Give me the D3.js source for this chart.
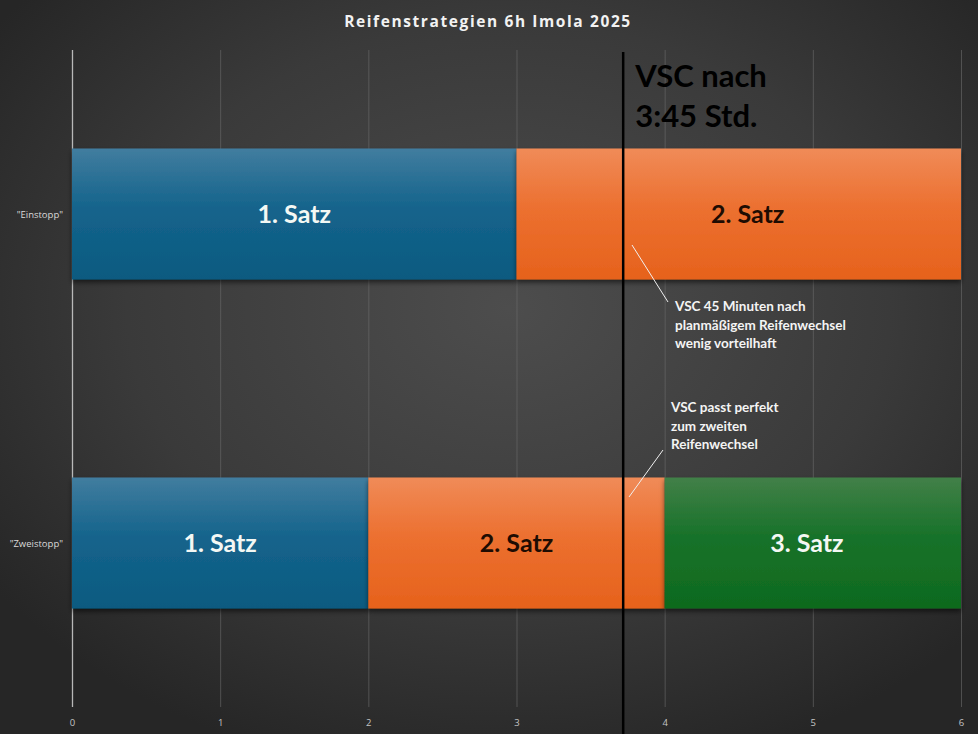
<!DOCTYPE html>
<html>
<head>
<meta charset="utf-8">
<script src="https://cdn.jsdelivr.net/npm/d3@7"></script>
<style>
  html, body { margin: 0; padding: 0; background: #333; }
  svg { display: block; }
</style>
</head>
<body>
<svg id="canvas"></svg>
<script>
// data
const strategies = ["\"Einstopp\"", "\"Zweistopp\""];
const stintStrategy = ["\"Einstopp\"", "\"Einstopp\"", "\"Zweistopp\"", "\"Zweistopp\"", "\"Zweistopp\""];
const stintStart = [0, 3, 0, 2, 4];
const stintEnd = [3, 6, 2, 4, 6];
const stintLabel = ["1. Satz", "2. Satz", "1. Satz", "2. Satz", "3. Satz"];
const stintTyre = ["blue", "orange", "blue", "orange", "green"];
const xTicks = [0, 1, 2, 3, 4, 5, 6];
const vscTime = 3.72;
const vscLabel = ["VSC nach", "3:45 Std."];
const note1 = ["VSC 45 Minuten nach", "planmäßigem Reifenwechsel", "wenig vorteilhaft"];
const note2 = ["VSC passt perfekt", "zum zweiten", "Reifenwechsel"];

const stints = stintStart.map((s, i) => ({
  strategy: stintStrategy[i], start: s, end: stintEnd[i], label: stintLabel[i], tyre: stintTyre[i]
}));

const width = 978;
const height = 734;
const margin = {top: 50, right: 17, bottom: 28, left: 72};

const svg = d3.select("#canvas").attr("width", width).attr("height", height).attr("viewBox", `0 0 ${width} ${height}`);
const defs = svg.append("defs");

// background
const bg = defs.append("radialGradient").attr("id", "bg")
  .attr("cx", "52%").attr("cy", "42%").attr("r", "65%");
bg.append("stop").attr("offset", "0%").attr("stop-color", "#4d4d4d");
bg.append("stop").attr("offset", "60%").attr("stop-color", "#3a3a3a");
bg.append("stop").attr("offset", "100%").attr("stop-color", "#262626");
svg.append("rect").attr("width", width).attr("height", height).attr("fill", "url(#bg)");

// bar gradients
const tyreColors = {
  blue:   ["#417d9f", "#15648c", "#0a5a80"],
  orange: ["#f08b58", "#ec7030", "#e6621c"],
  green:  ["#428048", "#18722a", "#0e6a1e"]
};
Object.entries(tyreColors).forEach(([k, c]) => {
  const g = defs.append("linearGradient").attr("id", "grad-" + k)
    .attr("x1", 0).attr("y1", 0).attr("x2", 0).attr("y2", 1);
  g.append("stop").attr("offset", "0%").attr("stop-color", c[0]);
  g.append("stop").attr("offset", "45%").attr("stop-color", c[1]);
  g.append("stop").attr("offset", "100%").attr("stop-color", c[2]);
});
const shadow = defs.append("filter").attr("id", "shadow")
  .attr("x", "-5%").attr("y", "-10%").attr("width", "110%").attr("height", "130%");
shadow.append("feDropShadow").attr("dx", 0).attr("dy", 3).attr("stdDeviation", 2.5)
  .attr("flood-color", "#000").attr("flood-opacity", 0.55);

const xScale = d3.scaleLinear().domain([0, 6]).range([margin.left, width - margin.right]);
const yScale = d3.scalePoint().domain(strategies).range([49.5, 707.5]).padding(0.5);
const barHeight = 131;

// title
svg.append("text")
  .attr("x", 488).attr("y", 27)
  .attr("text-anchor", "middle")
  .attr("fill", "#f2f2f2")
  .style("font-family", "'Open Sans', sans-serif")
  .style("font-weight", 700)
  .style("font-size", "15.5px")
  .style("letter-spacing", "1.6px")
  .text("Reifenstrategien 6h Imola 2025");

// x axis with gridlines
const xAxis = d3.axisBottom(xScale).tickValues(xTicks).tickFormat(d3.format("d")).tickSize(0).tickPadding(0);
svg.append("g").attr("transform", `translate(0, ${margin.top})`)
  .call(xAxis)
  .call(g => g.select(".domain").remove())
  .call(g => g.selectAll(".tick line")
    .attr("y2", 707 - margin.top)
    .attr("stroke", d => d === 0 ? "#c8c8c8" : "#6a6a6a")
    .attr("stroke-width", d => d === 0 ? 1.3 : 1)
    .attr("opacity", d => d === 0 ? 0.9 : 0.6))
  .call(g => g.selectAll(".tick text")
    .attr("y", 726 - margin.top)
    .attr("dy", 0)
    .attr("fill", "#c4c4c4")
    .style("font-family", "'Open Sans', sans-serif")
    .style("font-size", "9.5px"));

// y axis category labels
const yAxis = d3.axisLeft(yScale).tickSize(0).tickPadding(9);
svg.append("g").attr("transform", `translate(${margin.left}, 0)`)
  .call(yAxis)
  .call(g => g.select(".domain").remove())
  .call(g => g.selectAll(".tick text")
    .attr("fill", "#dadada")
    .attr("dy", "0.32em")
    .style("font-family", "'Open Sans', sans-serif")
    .style("font-size", "9.5px"));

// bars
const barGroup = svg.append("g");
barGroup.selectAll("rect")
  .data(stints)
  .join("rect")
  .attr("x", d => xScale(d.start))
  .attr("y", d => yScale(d.strategy) - barHeight / 2)
  .attr("width", d => xScale(d.end) - xScale(d.start))
  .attr("height", barHeight)
  .attr("fill", d => `url(#grad-${d.tyre})`)
  .attr("filter", "url(#shadow)");

// bar labels (the one-stop second stint label sits a bit right of centre)
const labelShift = [0, 0.06, 0, 0, -0.04];
barGroup.selectAll("text")
  .data(stints)
  .join("text")
  .attr("x", (d, i) => xScale((d.start + d.end) / 2 + labelShift[i]))
  .attr("y", d => yScale(d.strategy) + 3)
  .attr("text-anchor", "middle")
  .attr("dominant-baseline", "middle")
  .attr("fill", d => d.tyre === "orange" ? "#1e0c02" : "#f4f8f4")
  .style("font-family", "Lato, sans-serif")
  .style("font-weight", 700)
  .style("font-size", "25px")
  .text(d => d.label);

// VSC line
svg.append("line")
  .attr("x1", xScale(vscTime)).attr("x2", xScale(vscTime))
  .attr("y1", 52).attr("y2", height)
  .attr("stroke", "#000").attr("stroke-width", 2.5);

svg.append("g").selectAll("text")
  .data(vscLabel)
  .join("text")
  .attr("x", xScale(vscTime) + 12)
  .attr("y", (d, i) => 87 + i * 40)
  .attr("fill", "#000")
  .style("font-family", "Lato, sans-serif")
  .style("font-weight", 700)
  .style("font-size", "31px")
  .text(d => d);

// annotations
function annotate(lines, tx, ty, from, to) {
  svg.append("line")
    .attr("x1", from[0]).attr("y1", from[1])
    .attr("x2", to[0]).attr("y2", to[1])
    .attr("stroke", "#f0f0f0").attr("stroke-width", 1);
  svg.append("g").selectAll("text")
    .data(lines)
    .join("text")
    .attr("x", tx)
    .attr("y", (d, i) => ty + i * 18.5)
    .attr("fill", "#f4f4f4")
    .style("font-family", "Lato, sans-serif")
    .style("font-weight", 700)
    .style("font-size", "13.5px")
    .text(d => d);
}
annotate(note1, 675, 311, [632, 245], [668, 302]);
annotate(note2, 671, 412, [663, 450], [629, 497]);
</script>
</body>
</html>
